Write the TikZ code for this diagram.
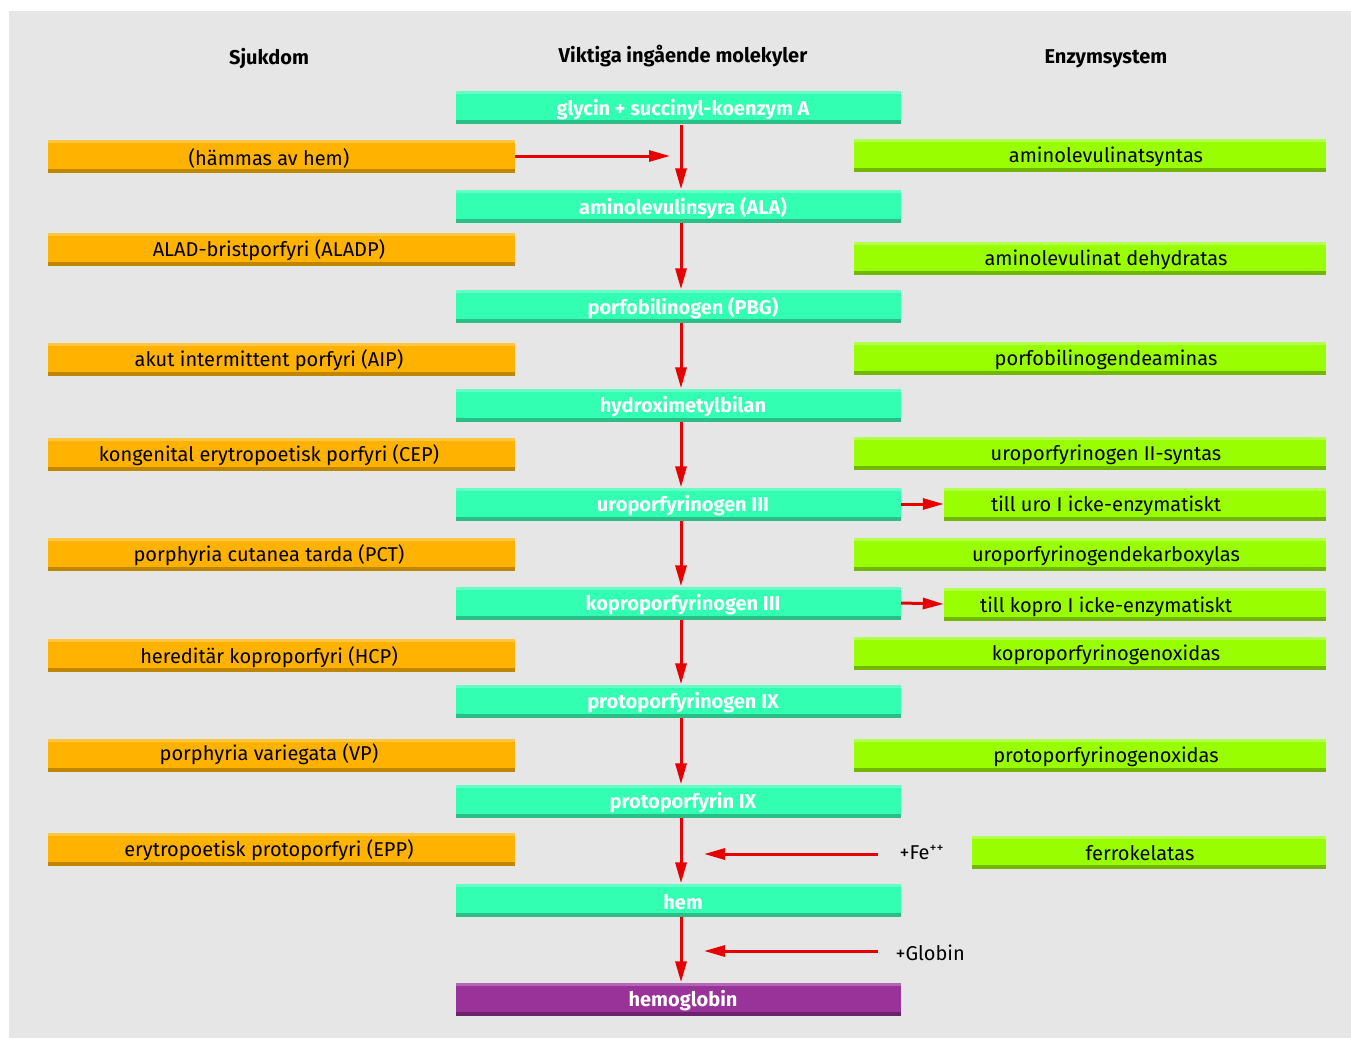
\documentclass[tikz,border=0pt]{standalone}
\usepackage{fontspec}
\setmainfont{Fira Sans}
\usetikzlibrary{arrows.meta}

\definecolor{bggray}{HTML}{E6E6E6}
\definecolor{molfill}{HTML}{33FFB3}
\definecolor{moltop}{HTML}{66FFC8}
\definecolor{molbot}{HTML}{2BBF88}
\definecolor{disfill}{HTML}{FFB300}
\definecolor{distop}{HTML}{FFC642}
\definecolor{disbot}{HTML}{C08600}
\definecolor{enzfill}{HTML}{99FF00}
\definecolor{enztop}{HTML}{B3FF4D}
\definecolor{enzbot}{HTML}{73B800}
\definecolor{hbfill}{HTML}{993399}
\definecolor{hbtop}{HTML}{B366B3}
\definecolor{hbbot}{HTML}{6B246B}
\definecolor{arrred}{HTML}{E60000}

\newcommand\strips[2]{%
  \fill[#1] (path picture bounding box.north west) rectangle ([yshift=-3pt]path picture bounding box.north east);
  \fill[#2] (path picture bounding box.south west) rectangle ([yshift=4pt]path picture bounding box.south east);}

\tikzset{
  bar/.style={minimum height=33pt, inner sep=0pt, anchor=center},
  mol/.style={bar, fill=molfill, minimum width=445pt, path picture={\strips{moltop}{molbot}}},
  hb/.style={bar, fill=hbfill, minimum width=445pt, path picture={\strips{hbtop}{hbbot}}},
  dis/.style={bar, fill=disfill, minimum width=467pt, path picture={\strips{distop}{disbot}}},
  enz/.style={bar, fill=enzfill, minimum width=472pt, path picture={\strips{enztop}{enzbot}}},
  moltxt/.style={text=white, yshift=-1pt, font=\fontsize{20}{22}\selectfont\bfseries},
  txt/.style={text=black, yshift=-1.5pt, font=\fontsize{20}{22}\selectfont},
  head/.style={yshift=-1.5pt, font=\fontsize{20}{22}\selectfont\bfseries},
  flow/.style={draw=arrred, line width=3pt, -{Triangle[length=21pt, width=11pt]}},
  side/.style={draw=arrred, line width=3pt, -{Triangle[length=21pt, width=11pt]}},
}

\begin{document}
\begin{tikzpicture}[x=1pt, y=-1pt]

\def\lx{269}
\def\mx{683}
\def\rx{1106}

\path [use as bounding box] (0,0) rectangle (1351,1038);
\fill [bggray] (9,11) rectangle (1351,1038);

% HEADERS
\node [head] (h1) at (\lx,57) {Sjukdom};
\node [head] (h2) at (\mx,55) {Viktiga ingående molekyler};
\node [head] (h3) at (\rx,57) {Enzymsystem};

% MOLECULES
\node [mol] (m1) at (678.5,108) {}; \node [moltxt] (m1t) at (\mx,109) {glycin + succinyl-koenzym A};
\node [mol] (m2) at (678.5,206) {}; \node [moltxt] (m2t) at (\mx,207) {aminolevulinsyra (ALA)};
\node [mol] (m3) at (678.5,306) {}; \node [moltxt] (m3t) at (\mx,307) {porfobilinogen (PBG)};
\node [mol] (m4) at (678.5,405) {}; \node [moltxt] (m4t) at (\mx,406) {hydroximetylbilan};
\node [mol] (m5) at (678.5,504) {}; \node [moltxt] (m5t) at (\mx,505) {uroporfyrinogen III};
\node [mol] (m6) at (678.5,603) {}; \node [moltxt] (m6t) at (\mx,604) {koproporfyrinogen III};
\node [mol] (m7) at (678.5,701) {}; \node [moltxt] (m7t) at (\mx,702) {protoporfyrinogen IX};
\node [mol] (m8) at (678.5,801) {}; \node [moltxt] (m8t) at (\mx,802) {protoporfyrin IX};
\node [mol] (m9) at (678.5,900) {}; \node [moltxt] (m9t) at (\mx,901) {hem};
\node [hb] (m10) at (678.5,999) {}; \node [moltxt] (m10t) at (\mx,1000) {hemoglobin};

% DISEASES
\node [dis] (d1) at (281.5,156) {}; \node [txt] (d1t) at (\lx,157) {(hämmas av hem)};
\node [dis] (d2) at (281.5,249) {}; \node [txt] (d2t) at (\lx,249) {ALAD-bristporfyri (ALADP)};
\node [dis] (d3) at (281.5,359) {}; \node [txt] (d3t) at (\lx,359) {akut intermittent porfyri (AIP)};
\node [dis] (d4) at (281.5,454) {}; \node [txt] (d4t) at (\lx,454) {kongenital erytropoetisk porfyri (CEP)};
\node [dis] (d5) at (281.5,554) {}; \node [txt] (d5t) at (\lx,554) {porphyria cutanea tarda (PCT)};
\node [dis] (d6) at (281.5,655) {}; \node [txt] (d6t) at (\lx,656) {hereditär koproporfyri (HCP)};
\node [dis] (d7) at (281.5,755) {}; \node [txt] (d7t) at (\lx,753) {porphyria variegata (VP)};
\node [dis] (d8) at (281.5,849) {}; \node [txt] (d8t) at (\lx,849) {erytropoetisk protoporfyri (EPP)};

% ENZYMES
\node [enz] (e1) at (1090,155) {}; \node [txt] (e1t) at (\rx,155) {aminolevulinatsyntas};
\node [enz] (e2) at (1090,258) {}; \node [txt] (e2t) at (\rx,258) {aminolevulinat dehydratas};
\node [enz] (e3) at (1090,358) {}; \node [txt] (e3t) at (\rx,358) {porfobilinogendeaminas};
\node [enz] (e4) at (1090,453) {}; \node [txt] (e4t) at (\rx,453) {uroporfyrinogen II-syntas};
\node [enz, minimum width=382pt] (u1) at (1135,504) {}; \node [txt] (u1t) at (\rx,504) {till uro I icke-enzymatiskt};
\node [enz] (e5) at (1090,554) {}; \node [txt] (e5t) at (\rx,554) {uroporfyrinogendekarboxylas};
\node [enz, minimum width=382pt] (k1) at (1135,604) {}; \node [txt] (k1t) at (\rx,605) {till kopro I icke-enzymatiskt};
\node [enz] (e6) at (1090,653) {}; \node [txt] (e6t) at (\rx,653) {koproporfyrinogenoxidas};
\node [enz] (e7) at (1090,755) {}; \node [txt] (e7t) at (\rx,755) {protoporfyrinogenoxidas};
\node [enz, minimum width=354pt] (e8) at (1149,852) {}; \node [txt] (e8t) at (1140,852) {ferrokelatas};

% ADDITIONS
\node [txt, anchor=west] (fe) at (896,851) {+Fe\textsuperscript{++}};
\node [txt, anchor=west] (gl) at (892,951) {+Globin};
\coordinate (fefrom) at (878,854);
\coordinate (fein) at (704,854);
\coordinate (glfrom) at (878,951);
\coordinate (glin) at (704,951);
\coordinate (inhib) at (670,156);

% FLOW
\draw [flow] ([xshift=2.5pt]m1.south) -- ([xshift=2.5pt]m2.north);
\draw [flow] ([xshift=2.5pt]m2.south) -- ([xshift=2.5pt]m3.north);
\draw [flow] ([xshift=2.5pt]m3.south) -- ([xshift=2.5pt]m4.north);
\draw [flow] ([xshift=2.5pt]m4.south) -- ([xshift=2.5pt]m5.north);
\draw [flow] ([xshift=2.5pt]m5.south) -- ([xshift=2.5pt]m6.north);
\draw [flow] ([xshift=2.5pt]m6.south) -- ([xshift=2.5pt]m7.north);
\draw [flow] ([xshift=2.5pt]m7.south) -- ([xshift=2.5pt]m8.north);
\draw [flow] ([xshift=2.5pt]m8.south) -- ([xshift=2.5pt]m9.north);
\draw [flow] ([xshift=2.5pt]m9.south) -- ([xshift=2.5pt]m10.north);
\draw [side] (d1.east) -- (inhib);
\draw [side] (m5.east) -- (u1.west);
\draw [side] (m6.east) -- (k1.west);
\draw [side] (fefrom) -- (fein);
\draw [side] (glfrom) -- (glin);

\end{tikzpicture}
\end{document}
